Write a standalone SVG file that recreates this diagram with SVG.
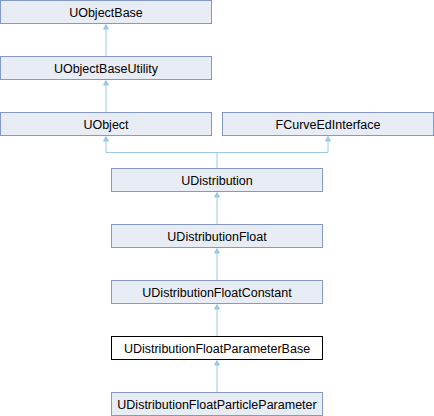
<svg xmlns="http://www.w3.org/2000/svg" width="434" height="416" viewBox="0 0 434 416">
<defs>
<style>
.n rect{fill:#E8ECF4;stroke:#8499C9;stroke-width:1}
.n.cur rect{fill:#FFFFFF;stroke:#000000}
.n text{font-family:"Liberation Sans",Arial,sans-serif;font-size:12.5px;fill:#000;text-anchor:middle}
.e{stroke:#9AC9E6;stroke-width:1;fill:none}
.ah{fill:#9AC9E6;stroke:#9AC9E6;stroke-width:1}
</style>
</defs>
<rect width="434" height="416" fill="#FFFFFF"/>
<g id="connectors">
<path class="e" d="M106 56.5V25"/>
<path class="ah" d="M106 24.5L103.5 29L108.5 29Z"/>
<path class="e" d="M106 112.5V81"/>
<path class="ah" d="M106 80.5L103.5 85L108.5 85Z"/>
<path class="e" d="M217 168.5V152.5M106 152.5H328M106 152.5V137M328 152.5V137"/>
<path class="ah" d="M106 136.5L103.5 141L108.5 141Z"/>
<path class="ah" d="M328 136.5L325.5 141L330.5 141Z"/>
<path class="e" d="M217 224.5V193"/>
<path class="ah" d="M217 192.5L214.5 197L219.5 197Z"/>
<path class="e" d="M217 280.5V249"/>
<path class="ah" d="M217 248.5L214.5 253L219.5 253Z"/>
<path class="e" d="M217 336.5V305"/>
<path class="ah" d="M217 304.5L214.5 309L219.5 309Z"/>
<path class="e" d="M217 392.5V361"/>
<path class="ah" d="M217 360.5L214.5 365L219.5 365Z"/>
</g>
<g id="UObjectBase" class="n"><rect x="0.5" y="0.5" width="211" height="23"/><text x="106" y="16.5">UObjectBase</text></g>
<g id="UObjectBaseUtility" class="n"><rect x="0.5" y="56.5" width="211" height="23"/><text x="106" y="72.5">UObjectBaseUtility</text></g>
<g id="UObject" class="n"><rect x="0.5" y="112.5" width="211" height="23"/><text x="106" y="128.5">UObject</text></g>
<g id="FCurveEdInterface" class="n"><rect x="222.5" y="112.5" width="211" height="23"/><text x="328" y="128.5">FCurveEdInterface</text></g>
<g id="UDistribution" class="n"><rect x="111.5" y="168.5" width="211" height="23"/><text x="217" y="184.5">UDistribution</text></g>
<g id="UDistributionFloat" class="n"><rect x="111.5" y="224.5" width="211" height="23"/><text x="217" y="240.5">UDistributionFloat</text></g>
<g id="UDistributionFloatConstant" class="n"><rect x="111.5" y="280.5" width="211" height="23"/><text x="217" y="296.5">UDistributionFloatConstant</text></g>
<g id="UDistributionFloatParameterBase" class="n cur"><rect x="111.5" y="336.5" width="211" height="23"/><text x="217" y="352.5">UDistributionFloatParameterBase</text></g>
<g id="UDistributionFloatParticleParameter" class="n"><rect x="111.5" y="392.5" width="211" height="23"/><text x="217" y="408.5">UDistributionFloatParticleParameter</text></g>
</svg>
